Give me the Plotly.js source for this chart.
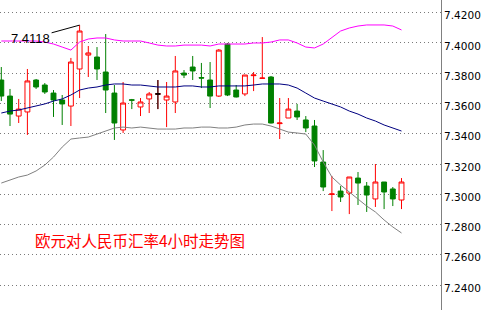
<!DOCTYPE html>
<html>
<head>
<meta charset="utf-8">
<script src="https://cdn.plot.ly/plotly-3.0.1.min.js"></script>
<style>html,body{margin:0;padding:0;background:#fff;}#chart{width:483px;height:310px;}</style>
</head>
<body>
<div id="chart"></div>
<script>
// Candle data (4-hour EUR/CNY)
const opens  = [7.3755,7.3649,7.3517,7.3544,7.3755,7.3722,7.3669,7.3623,7.3583,7.3828,
                7.3920,7.3907,7.3808,7.3669,7.3425,7.3624,7.3577,7.3630,7.3663,7.3623,
                7.3610,7.3801,7.3841,7.3771,7.3755,7.3649,7.3993,7.3689,7.3663,7.3784,
                7.3766,7.3775,7.3467,7.3504,7.3550,7.3491,7.3451,7.3213,7.2999,7.3021,
                7.3008,7.3107,7.3054,7.2969,7.3081,7.3035,7.2962];
const highs  = [7.3841,7.3696,7.3630,7.3828,7.3762,7.3735,7.3689,7.3656,7.3901,7.4118,
                7.3980,7.3973,7.4059,7.3722,7.3742,7.3630,7.3636,7.3676,7.3755,7.3742,
                7.3914,7.3821,7.3914,7.3868,7.3874,7.3960,7.4000,7.3722,7.3788,7.3808,
                7.4039,7.3782,7.3636,7.3636,7.3597,7.3517,7.3491,7.3292,7.3121,7.3054,
                7.3114,7.3147,7.3081,7.3200,7.3081,7.3048,7.3107];
const lows   = [7.3616,7.3451,7.3471,7.3392,7.3696,7.3663,7.3511,7.3458,7.3451,7.3636,
                7.3775,7.3755,7.3537,7.3359,7.3405,7.3563,7.3517,7.3537,7.3563,7.3444,
                7.3537,7.3768,7.3755,7.3702,7.3570,7.3643,7.3649,7.3640,7.3649,7.3682,
                7.3766,7.3468,7.3365,7.3504,7.3491,7.3411,7.3180,7.3021,7.2889,7.2949,
                7.2869,7.2929,7.2883,7.2916,7.2902,7.2922,7.2902];
const closes = [7.3649,7.3530,7.3563,7.3749,7.3709,7.3676,7.3623,7.3597,7.3874,7.4079,
                7.3934,7.3828,7.3689,7.3471,7.3603,7.3622,7.3610,7.3663,7.3663,7.3649,
                7.3815,7.3788,7.3815,7.3768,7.3649,7.3953,7.3656,7.3643,7.3788,7.3788,
                7.3768,7.3471,7.3471,7.3563,7.3511,7.3438,7.3220,7.3048,7.3002,7.2982,
                7.3114,7.3074,7.2995,7.3081,7.3015,7.2969,7.3081];
// Bollinger bands
const bandUpper = [7.4013,7.4013,7.4013,7.4013,7.4013,7.4006,7.3993,7.3973,7.3953,7.4006,
                   7.4026,7.4033,7.4033,7.4020,7.4013,7.4013,7.4013,7.4000,7.3986,7.3980,
                   7.3980,7.3986,7.3986,7.3986,7.3980,7.3993,7.3993,7.3993,7.3993,7.4000,
                   7.4000,7.4006,7.4020,7.4020,7.4000,7.3973,7.3967,7.3993,7.4039,7.4079,
                   7.4099,7.4112,7.4119,7.4119,7.4119,7.4112,7.4086];
const bandMiddle = [7.3537,7.3550,7.3557,7.3570,7.3583,7.3597,7.3616,7.3630,7.3656,7.3689,
                    7.3702,7.3709,7.3722,7.3729,7.3729,7.3722,7.3722,7.3716,7.3709,7.3709,
                    7.3709,7.3716,7.3716,7.3709,7.3709,7.3716,7.3716,7.3716,7.3716,7.3722,
                    7.3729,7.3729,7.3729,7.3722,7.3702,7.3669,7.3636,7.3616,7.3597,7.3577,
                    7.3550,7.3530,7.3504,7.3484,7.3458,7.3438,7.3418];
const bandLower = [7.3074,7.3094,7.3114,7.3127,7.3154,7.3193,7.3246,7.3312,7.3365,7.3372,
                   7.3378,7.3398,7.3418,7.3438,7.3444,7.3438,7.3444,7.3438,7.3431,7.3431,
                   7.3431,7.3438,7.3438,7.3444,7.3444,7.3438,7.3438,7.3444,7.3458,7.3464,
                   7.3464,7.3451,7.3431,7.3411,7.3405,7.3398,7.3325,7.3213,7.3114,7.3061,
                   7.3015,7.2968,7.2922,7.2883,7.2830,7.2784,7.2744];
const dojiIdx = [18];
const markIdx = 9;
const yTicks = [7.24,7.26,7.28,7.30,7.32,7.34,7.36,7.38,7.40,7.42];
const titleText = '欧元对人民币汇率4小时走势图';

const xs = opens.map((_, i) => i);

const traces = [
  {
    type: 'candlestick', x: xs, open: opens, high: highs, low: lows, close: closes,
    increasing: {line: {color: '#ff0000', width: 1}, fillcolor: '#ffffff'},
    decreasing: {line: {color: '#008000', width: 1}, fillcolor: '#008000'},
    whiskerwidth: 0, hoverinfo: 'skip'
  },
  {
    type: 'candlestick', x: dojiIdx.map(i => xs[i]),
    open: dojiIdx.map(i => opens[i]), high: dojiIdx.map(i => highs[i]),
    low: dojiIdx.map(i => lows[i]), close: dojiIdx.map(i => closes[i]),
    increasing: {line: {color: '#000000', width: 1}, fillcolor: '#000000'},
    decreasing: {line: {color: '#000000', width: 1}, fillcolor: '#000000'},
    whiskerwidth: 0, hoverinfo: 'skip'
  },
  {type: 'scatter', mode: 'lines', x: xs, y: bandUpper, line: {color: '#ff00ff', width: 1}, hoverinfo: 'skip'},
  {type: 'scatter', mode: 'lines', x: xs, y: bandMiddle, line: {color: '#000080', width: 1}, hoverinfo: 'skip'},
  {type: 'scatter', mode: 'lines', x: xs, y: bandLower, line: {color: '#808080', width: 1}, hoverinfo: 'skip'}
];

const layout = {
  width: 483, height: 310,
  margin: {l: 0, r: 42, t: 0, b: 0, pad: 0},
  paper_bgcolor: '#ffffff', plot_bgcolor: '#ffffff',
  showlegend: false, hovermode: false,
  boxgap: 0.2,
  xaxis: {
    range: [-0.15, 50.54], showgrid: false, zeroline: false, showticklabels: false,
    ticks: '', showline: false, rangeslider: {visible: false}, fixedrange: true
  },
  yaxis: {
    side: 'right', range: [7.2235, 7.4284],
    tickvals: yTicks, tickformat: '.4f',
    showgrid: true, gridcolor: '#7a7a7a', griddash: '1px,3px', gridwidth: 1,
    zeroline: false, showline: true, linecolor: '#808080', linewidth: 1,
    ticks: '', ticklabelstandoff: 0, ticklabelshift: 3,
    tickfont: {family: 'DejaVu Sans', size: 10.5, color: '#000000'},
    fixedrange: true
  },
  annotations: [
    {
      x: xs[markIdx], y: highs[markIdx], xref: 'x', yref: 'y',
      text: highs[markIdx].toFixed(4), showarrow: true, arrowhead: 0,
      arrowwidth: 1, arrowcolor: '#000000', ax: -49, ay: 13.5,
      font: {family: 'Liberation Sans', size: 13, color: '#000000'}
    },
    {
      x: 0.0748, y: 0.2258, xref: 'paper', yref: 'paper',
      xanchor: 'left', yanchor: 'middle', showarrow: false,
      text: titleText,
      font: {family: 'Noto Sans CJK SC', size: 15.5, color: '#ff0000'}
    }
  ]
};

Plotly.newPlot('chart', traces, layout, {displayModeBar: false, staticPlot: true});
</script>
</body>
</html>
